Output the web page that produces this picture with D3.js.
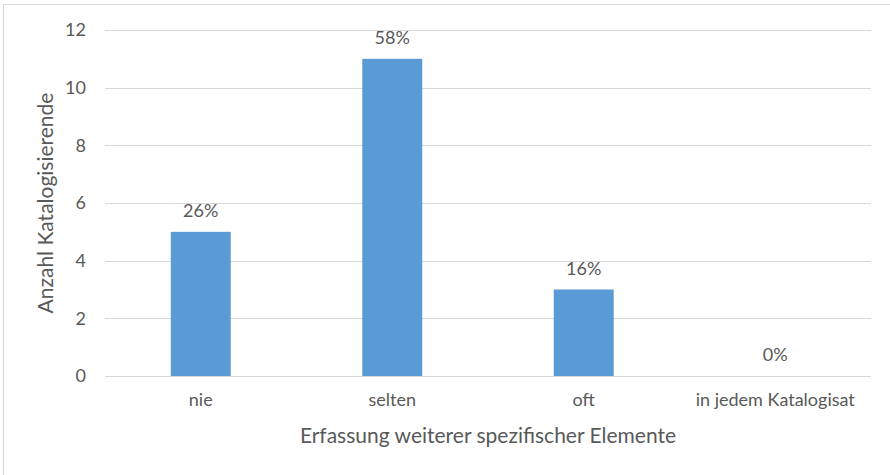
<!DOCTYPE html>
<html>
<head>
<meta charset="utf-8">
<script src="https://cdn.jsdelivr.net/npm/d3@7/dist/d3.min.js"></script>
<style>
  body { margin: 0; background: #fff; }
  text { font-family: Lato, "Open Sans", sans-serif; fill: #595959; }
</style>
</head>
<body>
<div id="chart"></div>
<script>
const categories = ["nie", "selten", "oft", "in jedem Katalogisat"];
const counts = [5, 11, 3, 0];
const percentLabels = ["26%", "58%", "16%", "0%"];
const yTicks = [0, 2, 4, 6, 8, 10, 12];

const width = 890, height = 475;
const margin = { top: 30, right: 19, bottom: 99, left: 105 };

const svg = d3.select('#chart')
    .append('svg')
    .attr('width', width)
    .attr('height', height);

// outer chart border (runs off the right/bottom edge like in the original)
svg.append('rect')
    .attr('x', 3.5).attr('y', 4.5)
    .attr('width', 900).attr('height', 500)
    .attr('fill', 'none')
    .attr('stroke', '#d9d9d9')
    .attr('stroke-width', 1);

const xScale = d3.scaleBand()
    .domain(categories)
    .range([margin.left, width - margin.right])
    .paddingInner(0.687)
    .paddingOuter(0.3435);

const yScale = d3.scaleLinear()
    .domain([0, 12])
    .range([height - margin.bottom, margin.top]);

// gridlines
svg.append('g')
    .selectAll('line')
    .data(yTicks)
    .join('line')
    .attr('x1', margin.left)
    .attr('x2', width - margin.right)
    .attr('y1', d => Math.round(yScale(d)) + 0.5)
    .attr('y2', d => Math.round(yScale(d)) + 0.5)
    .attr('stroke', '#d9d9d9')
    .attr('stroke-width', 1);

// y axis labels
const yAxis = svg.append('g')
    .attr('transform', `translate(${margin.left - 19}, 0)`)
    .call(d3.axisLeft(yScale).tickValues(yTicks).tickSize(0).tickPadding(0));
yAxis.select('.domain').remove();
yAxis.selectAll('text')
    .style('font-size', '18px')
    .style('font-family', 'Lato, "Open Sans", sans-serif')
    .attr('fill', '#595959');

// bars
svg.append('g')
    .selectAll('rect')
    .data(counts)
    .join('rect')
    .attr('x', (d, i) => xScale(categories[i]))
    .attr('y', d => yScale(d))
    .attr('width', xScale.bandwidth())
    .attr('height', d => yScale(0) - yScale(d))
    .attr('fill', '#5b9bd5');

// baseline redrawn over bars
svg.append('line')
    .attr('x1', margin.left)
    .attr('x2', width - margin.right)
    .attr('y1', Math.round(yScale(0)) + 0.5)
    .attr('y2', Math.round(yScale(0)) + 0.5)
    .attr('stroke', '#d9d9d9');

// percentage labels above bars
svg.append('g')
    .selectAll('text')
    .data(counts)
    .join('text')
    .attr('x', (d, i) => xScale(categories[i]) + xScale.bandwidth() / 2)
    .attr('y', d => yScale(d) - 15)
    .attr('text-anchor', 'middle')
    .style('font-size', '18px')
    .text((d, i) => percentLabels[i]);

// x axis category labels
const xAxis = svg.append('g')
    .attr('transform', `translate(0, ${yScale(0)})`)
    .call(d3.axisBottom(xScale).tickSize(0).tickPadding(17));
xAxis.select('.domain').remove();
xAxis.selectAll('text')
    .style('font-size', '18px')
    .style('font-family', 'Lato, "Open Sans", sans-serif')
    .attr('fill', '#595959');

// axis titles
svg.append('text')
    .attr('x', (margin.left + width - margin.right) / 2)
    .attr('y', 443)
    .attr('text-anchor', 'middle')
    .style('font-size', '21px')
    .text('Erfassung weiterer spezifischer Elemente');

svg.append('text')
    .attr('transform', `translate(53, ${(margin.top + height - margin.bottom) / 2}) rotate(-90)`)
    .attr('text-anchor', 'middle')
    .style('font-size', '21px')
    .text('Anzahl Katalogisierende');
</script>
</body>
</html>
